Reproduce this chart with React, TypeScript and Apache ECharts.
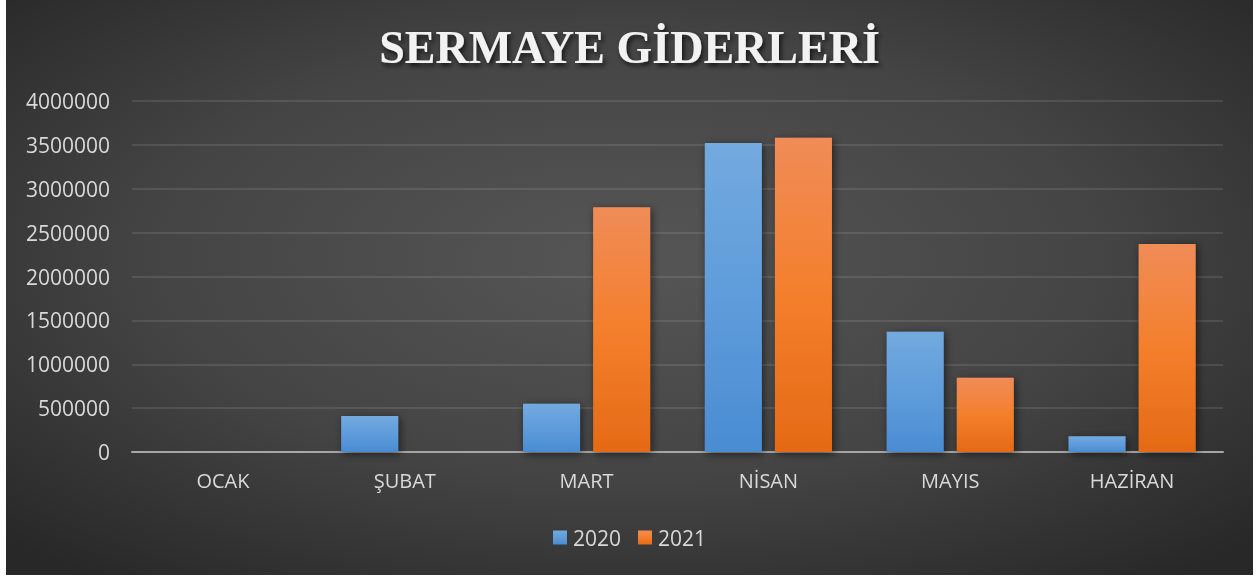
import React, { useEffect, useRef } from "react";
import * as echarts from "echarts";

const titleText = "SERMAYE GİDERLERİ";
const months = ["OCAK", "ŞUBAT", "MART", "NİSAN", "MAYIS", "HAZİRAN"];
const seriesNames = ["2020", "2021"];
const values2020 = [0, 410000, 550000, 3520000, 1370000, 180000];
const values2021 = [0, 0, 2790000, 3580000, 845000, 2370000];
const yMin = 0;
const yMax = 4000000;
const yInterval = 500000;

export default function App() {
  const ref = useRef<HTMLDivElement>(null);

  useEffect(() => {
    document.body.style.margin = "0";
    document.body.style.background = "#ffffff";
    const chart = echarts.init(ref.current!, null, { renderer: "svg" });
    const labelColor = "#d9d9d9";
    const font = "'Open Sans', sans-serif";
    const blue = new echarts.graphic.LinearGradient(0, 0, 0, 1, [
      { offset: 0, color: "#73aadf" },
      { offset: 0.5, color: "#5f9cdb" },
      { offset: 1, color: "#4a8cd2" },
    ]);
    const orange = new echarts.graphic.LinearGradient(0, 0, 0, 1, [
      { offset: 0, color: "#f08c58" },
      { offset: 0.5, color: "#f47f2c" },
      { offset: 1, color: "#e56a16" },
    ]);
    const barShadow = {
      shadowColor: "rgba(0,0,0,0.55)",
      shadowBlur: 8,
      shadowOffsetX: 2,
      shadowOffsetY: 2,
    };
    chart.setOption({
      animation: false,
      backgroundColor: {
        type: "radial",
        x: 0.5,
        y: 0.45,
        r: 0.7,
        colorStops: [
          { offset: 0, color: "#565656" },
          { offset: 0.55, color: "#444444" },
          { offset: 1, color: "#282828" },
        ],
      },
      title: {
        text: titleText,
        left: "center",
        top: 19,
        textStyle: {
          fontFamily: "'Liberation Serif', 'Times New Roman', serif",
          fontWeight: "bold",
          fontSize: 46,
          color: "#f2f2f2",
          textShadowColor: "rgba(0,0,0,0.7)",
          textShadowBlur: 5,
          textShadowOffsetX: 2,
          textShadowOffsetY: 3,
        },
      },
      legend: {
        data: seriesNames,
        bottom: 22,
        left: "center",
        itemWidth: 14,
        itemHeight: 14,
        itemGap: 17,
        icon: "rect",
        textStyle: { color: labelColor, fontSize: 21, fontFamily: font, padding: [0, 0, 0, 1] },
      },
      grid: { left: 126, right: 30, top: 101, bottom: 123 },
      xAxis: {
        type: "category",
        data: months,
        axisLine: { show: true, lineStyle: { color: "#a6a6a6", width: 2 } },
        axisTick: { show: false },
        axisLabel: { color: labelColor, fontSize: 20, fontFamily: font, margin: 18 },
      },
      yAxis: {
        type: "value",
        min: yMin,
        max: yMax,
        interval: yInterval,
        axisLine: { show: false },
        axisTick: { show: false },
        splitLine: { lineStyle: { color: "rgba(255,255,255,0.1)", width: 2 } },
        axisLabel: {
          color: labelColor,
          fontSize: 21,
          fontFamily: font,
          margin: 22,
          formatter: (v: number) => String(v),
        },
      },
      series: [
        {
          name: seriesNames[0],
          type: "bar",
          data: values2020,
          barWidth: 57,
          barGap: "23%",
          itemStyle: { color: blue, ...barShadow },
        },
        {
          name: seriesNames[1],
          type: "bar",
          data: values2021,
          barWidth: 57,
          barGap: "23%",
          itemStyle: { color: orange, ...barShadow },
        },
      ],
    });
    return () => chart.dispose();
  }, []);

  return (
    <div
      ref={ref}
      style={{ position: "fixed", left: 6, top: 0, width: 1247, height: 575 }}
    />
  );
}
